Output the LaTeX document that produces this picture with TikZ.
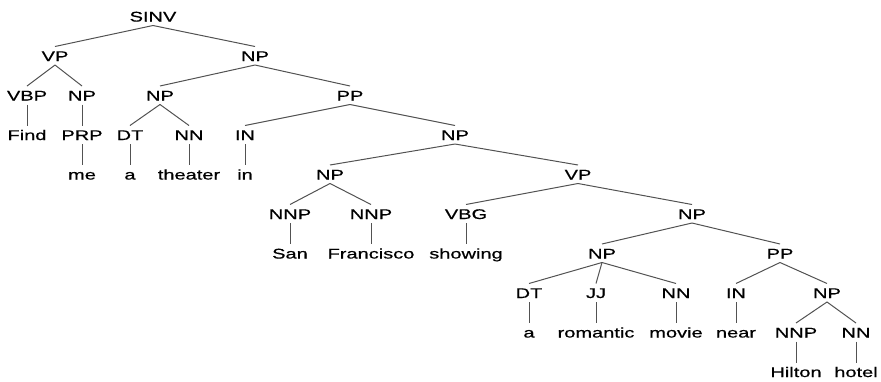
\documentclass[tikz,border=0pt]{standalone}
\usepackage{fontspec}
\setmainfont{Liberation Sans}
\newfontfamily\treefont[FakeBold=0.5]{Liberation Sans}
\newcommand{\sw}[1]{\scalebox{1.43}[1]{#1}}
\tikzset{
  t/.style={inner sep=0pt, anchor=base, font=\treefont\fontsize{14}{16}\selectfont, text=black},
  br/.style={draw=black!68, line width=1pt},
}
\newcommand{\tedge}[2]{\draw[br] ([yshift=-4pt]#1.base) -- ([yshift=14.5pt]#2.base);}
\newcommand{\lv}[1]{21.5+39.5*#1}
\begin{document}
\begin{tikzpicture}[x=1pt,y=-1pt]
\useasboundingbox (0,0) rectangle (881,381);
% level 0
\node[t] (sinv) at (153,{\lv{0}}) {\sw{SINV}};
% level 1
\node[t] (vp1) at (55,{\lv{1}}) {\sw{VP}};
\node[t] (np1) at (255,{\lv{1}}) {\sw{NP}};
% level 2
\node[t] (vbp) at (27,{\lv{2}}) {\sw{VBP}};
\node[t] (np2a) at (82,{\lv{2}}) {\sw{NP}};
\node[t] (np2b) at (160,{\lv{2}}) {\sw{NP}};
\node[t] (pp2) at (350,{\lv{2}}) {\sw{PP}};
% level 3
\node[t] (find) at (27,{\lv{3}}) {\sw{Find}};
\node[t] (prp) at (82,{\lv{3}}) {\sw{PRP}};
\node[t] (dt3) at (130,{\lv{3}}) {\sw{DT}};
\node[t] (nn3) at (189,{\lv{3}}) {\sw{NN}};
\node[t] (in3) at (245,{\lv{3}}) {\sw{IN}};
\node[t] (np3) at (455,{\lv{3}}) {\sw{NP}};
% level 4
\node[t] (me) at (82,{\lv{4}}) {\sw{me}};
\node[t] (a4) at (130,{\lv{4}}) {\sw{a}};
\node[t] (theater) at (189,{\lv{4}}) {\sw{theater}};
\node[t] (in4) at (245,{\lv{4}}) {\sw{in}};
\node[t] (np4) at (330,{\lv{4}}) {\sw{NP}};
\node[t] (vp4) at (578,{\lv{4}}) {\sw{VP}};
% level 5
\node[t] (nnp5a) at (290,{\lv{5}}) {\sw{NNP}};
\node[t] (nnp5b) at (371,{\lv{5}}) {\sw{NNP}};
\node[t] (vbg) at (466,{\lv{5}}) {\sw{VBG}};
\node[t] (np5) at (692,{\lv{5}}) {\sw{NP}};
% level 6
\node[t] (san) at (290,{\lv{6}}) {\sw{San}};
\node[t] (fran) at (371,{\lv{6}}) {\sw{Francisco}};
\node[t] (showing) at (466,{\lv{6}}) {\sw{showing}};
\node[t] (np6) at (602,{\lv{6}}) {\sw{NP}};
\node[t] (pp6) at (780,{\lv{6}}) {\sw{PP}};
% level 7
\node[t] (dt7) at (529,{\lv{7}}) {\sw{DT}};
\node[t] (jj7) at (596,{\lv{7}}) {\sw{JJ}};
\node[t] (nn7) at (676,{\lv{7}}) {\sw{NN}};
\node[t] (in7) at (736,{\lv{7}}) {\sw{IN}};
\node[t] (np7) at (827,{\lv{7}}) {\sw{NP}};
% level 8
\node[t] (a8) at (529,{\lv{8}}) {\sw{a}};
\node[t] (romantic) at (596,{\lv{8}}) {\sw{romantic}};
\node[t] (movie) at (676,{\lv{8}}) {\sw{movie}};
\node[t] (near) at (736,{\lv{8}}) {\sw{near}};
\node[t] (nnp8) at (796,{\lv{8}}) {\sw{NNP}};
\node[t] (nn8) at (856,{\lv{8}}) {\sw{NN}};
% level 9
\node[t] (hilton) at (796,{\lv{9}}) {\sw{Hilton}};
\node[t] (hotel) at (856,{\lv{9}}) {\sw{hotel}};
% edges
\tedge{sinv}{vp1}\tedge{sinv}{np1}
\tedge{vp1}{vbp}\tedge{vp1}{np2a}
\tedge{np1}{np2b}\tedge{np1}{pp2}
\tedge{vbp}{find}\tedge{np2a}{prp}
\tedge{np2b}{dt3}\tedge{np2b}{nn3}
\tedge{pp2}{in3}\tedge{pp2}{np3}
\tedge{prp}{me}\tedge{dt3}{a4}\tedge{nn3}{theater}\tedge{in3}{in4}
\tedge{np3}{np4}\tedge{np3}{vp4}
\tedge{np4}{nnp5a}\tedge{np4}{nnp5b}
\tedge{vp4}{vbg}\tedge{vp4}{np5}
\tedge{nnp5a}{san}\tedge{nnp5b}{fran}\tedge{vbg}{showing}
\tedge{np5}{np6}\tedge{np5}{pp6}
\tedge{np6}{dt7}\tedge{np6}{jj7}\tedge{np6}{nn7}
\tedge{pp6}{in7}\tedge{pp6}{np7}
\tedge{dt7}{a8}\tedge{jj7}{romantic}\tedge{nn7}{movie}\tedge{in7}{near}
\tedge{np7}{nnp8}\tedge{np7}{nn8}
\tedge{nnp8}{hilton}\tedge{nn8}{hotel}
\end{tikzpicture}
\end{document}
